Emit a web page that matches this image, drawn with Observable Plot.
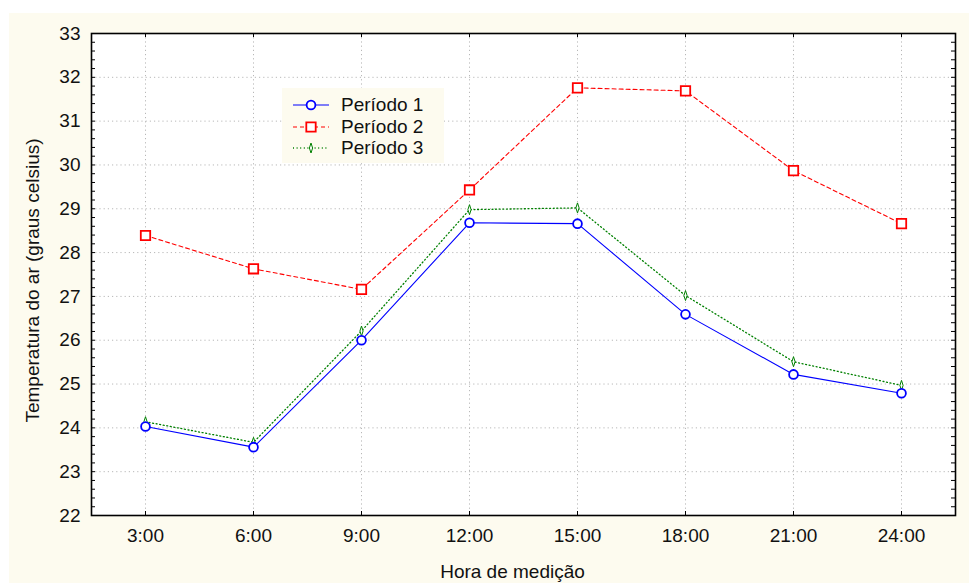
<!DOCTYPE html>
<html>
<head>
<meta charset="utf-8">
<script src="https://cdn.jsdelivr.net/npm/d3@7"></script>
<script src="https://cdn.jsdelivr.net/npm/@observablehq/plot@0.6"></script>
<style>
  body { margin: 0; background: #fff; font-family: "Liberation Sans", Arial, sans-serif; }
  #fig { position: relative; width: 969px; height: 583px; background: #fff; overflow: hidden; }
  #panel { position: absolute; left: 9px; top: 13px; width: 960px; height: 570px; background: #fdfbef; }
  #panel svg { display: block; }
  #legend { position: absolute; left: 273px; top: 75px; width: 162px; height: 75px; background: #fdfbef;
            font-size: 19px; color: #111; }
  .row { position: absolute; left: 0; height: 22px; display: flex; align-items: center; white-space: nowrap; }
  .row svg { margin-left: 11px; margin-right: 12px; }
</style>
</head>
<body>
<div id="fig"><div id="panel"></div></div>
<script>
// Measurement hours (x categories)
const hours = ["3:00", "6:00", "9:00", "12:00", "15:00", "18:00", "21:00", "24:00"];

// Mean air temperature (°C) for each period
const periodo1 = [24.03, 23.56, 26.00, 28.68, 28.66, 26.59, 25.22, 24.79];
const periodo2 = [28.39, 27.63, 27.16, 29.43, 31.76, 31.69, 29.87, 28.66];
const periodo3 = [24.14, 23.67, 26.21, 28.98, 29.02, 27.02, 25.51, 24.97];

// Axis ticks
const yTicks = d3.range(22, 34);
const yMinor = d3.range(22, 33.001, 0.2).map(v => +v.toFixed(1));

const seriesNames = ["Período 1", "Período 2", "Período 3"];

const rows = hours.map((h, i) => ({hora: h, p1: periodo1[i], p2: periodo2[i], p3: periodo3[i]}));

// Narrow diamond used as the marker of the third series
const thinDiamond = {
  draw(context, size) {
    const r = Math.sqrt(size / Math.PI);
    const w = r * 0.32;
    context.moveTo(0, -r);
    context.lineTo(w, 0);
    context.lineTo(0, r);
    context.lineTo(-w, 0);
    context.closePath();
  }
};

const styles = [
  {stroke: "#0000ff", dash: null, width: 1.1},
  {stroke: "#ff0000", dash: "4,3", width: 1.1},
  {stroke: "#008000", dash: "1,2.6", width: 1.3}
];

const W = 960, H = 570, mL = 82, mT = 20, mR = 14, mB = 68;
const plotW = W - mL - mR, plotH = H - mT - mB;

const chart = Plot.plot({
  width: W,
  height: H,
  marginLeft: mL,
  marginTop: mT,
  marginRight: mR,
  marginBottom: mB,
  style: {background: "transparent", fontFamily: "'Liberation Sans', Arial, sans-serif", fontSize: "19px", color: "#111"},
  x: {type: "point", domain: hours, padding: 0.5, label: null},
  y: {domain: [22, 33], label: null},
  marks: [
    Plot.frame({fill: "white", stroke: null}),
    Plot.gridX(hours, {stroke: "#b8b8b8", strokeOpacity: 1, strokeDasharray: "1.2,3"}),
    Plot.gridY(yTicks, {stroke: "#b8b8b8", strokeOpacity: 1, strokeDasharray: "1.2,3"}),

    // series lines
    Plot.line(rows, {x: "hora", y: "p3", stroke: styles[2].stroke, strokeWidth: styles[2].width, strokeDasharray: styles[2].dash}),
    Plot.line(rows, {x: "hora", y: "p2", stroke: styles[1].stroke, strokeWidth: styles[1].width, strokeDasharray: styles[1].dash}),
    Plot.line(rows, {x: "hora", y: "p1", stroke: styles[0].stroke, strokeWidth: styles[0].width}),

    // series markers
    Plot.dot(rows, {x: "hora", y: "p3", symbol: thinDiamond, r: 5, fill: "white", stroke: "#008000", strokeWidth: 1}),
    Plot.dot(rows, {x: "hora", y: "p2", symbol: "square", r: 5.3, fill: "white", stroke: "#ff0000", strokeWidth: 1.8}),
    Plot.dot(rows, {x: "hora", y: "p1", symbol: "circle", r: 4.4, fill: "white", stroke: "#0000ff", strokeWidth: 1.8}),

    // inward tick marks on all four sides
    Plot.tickY(yMinor, {y: d => d, insetRight: plotW - 4, stroke: "#000"}),
    Plot.tickY(yMinor, {y: d => d, insetLeft: plotW - 4, stroke: "#000"}),
    Plot.tickX(hours, {x: d => d, insetTop: plotH - 4, stroke: "#000"}),
    Plot.tickX(hours, {x: d => d, insetBottom: plotH - 4, stroke: "#000"}),

    // tick labels
    Plot.axisY({ticks: yTicks, tickSize: 0, tickPadding: 11, fontSize: 19, label: null}),
    Plot.axisX({tickSize: 0, tickPadding: 13, fontSize: 19, label: null}),

    // axis titles
    Plot.text(["Hora de medição"], {frameAnchor: "bottom", lineAnchor: "bottom", textAnchor: "middle", dy: 62, dx: -11, fontSize: 19, fill: "#111"}),
    Plot.text(["Temperatura do ar (graus celsius)"], {frameAnchor: "left", lineAnchor: "top", textAnchor: "middle", rotate: -90, dx: -66, dy: 6, fontSize: 19, fill: "#111"}),

    Plot.frame({stroke: "#000", strokeWidth: 1.6})
  ]
});

const panel = document.getElementById("panel");
panel.appendChild(chart);

// Legend box inside the plot area
const legend = document.createElement("div");
legend.id = "legend";
panel.appendChild(legend);
const markerSymbols = [d3.symbolCircle, d3.symbolSquare, thinDiamond];
const markerRadius = [4.4, 5.3, 5];
const markerStroke = [1.8, 1.8, 1];
const rowTops = [6, 28, 49];
seriesNames.forEach((name, k) => {
  const row = document.createElement("div");
  row.className = "row";
  row.style.top = rowTops[k] + "px";
  const svg = d3.create("svg").attr("width", 36).attr("height", 22);
  svg.append("line").attr("x1", 0).attr("x2", 36).attr("y1", 11).attr("y2", 11)
    .attr("stroke", styles[k].stroke).attr("stroke-width", styles[k].width)
    .attr("stroke-dasharray", styles[k].dash);
  const r = markerRadius[k];
  svg.append("path").attr("transform", "translate(18,11)")
    .attr("d", d3.symbol(markerSymbols[k], Math.PI * r * r)())
    .attr("fill", "white").attr("stroke", styles[k].stroke).attr("stroke-width", markerStroke[k]);
  row.appendChild(svg.node());
  const label = document.createElement("span");
  label.textContent = name;
  row.appendChild(label);
  legend.appendChild(row);
});
</script>
</body>
</html>
